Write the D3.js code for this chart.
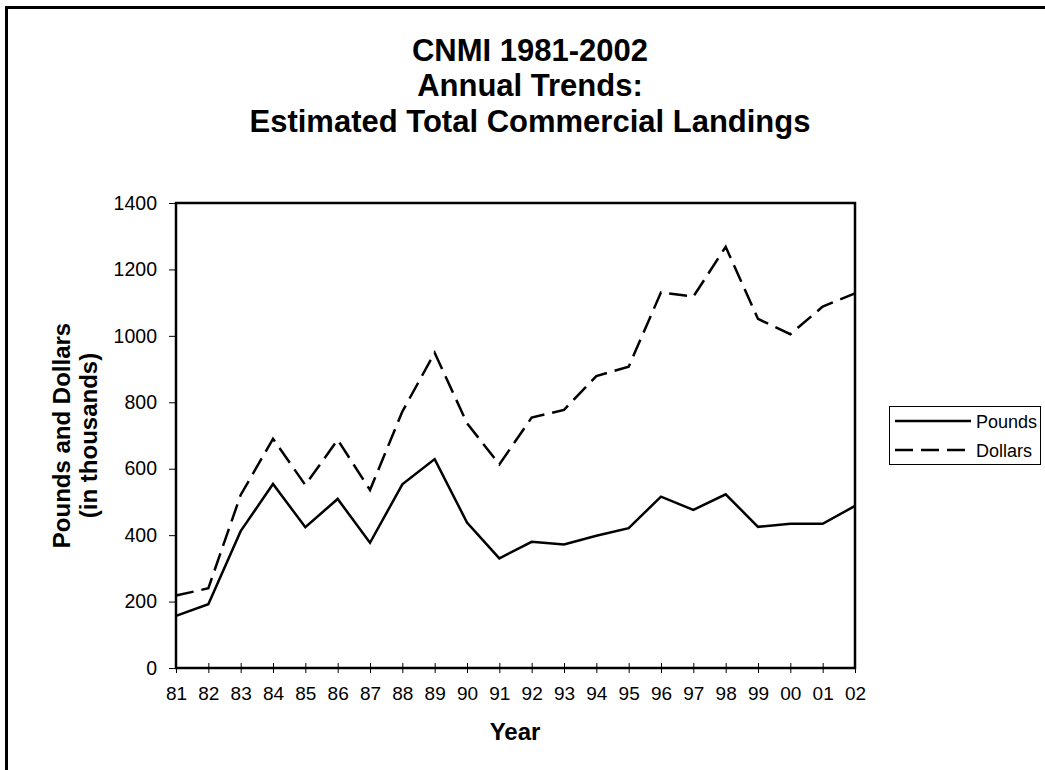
<!DOCTYPE html>
<html>
<head>
<meta charset="utf-8">
<script src="https://cdn.jsdelivr.net/npm/d3@7"></script>
<style>
  body { margin: 0; background: #fff; }
  svg { display: block; font-family: "Liberation Sans", Arial, sans-serif; }
</style>
</head>
<body>
<svg id="chart" width="1045" height="770"></svg>
<script>
// data
var years = ['81','82','83','84','85','86','87','88','89','90','91','92','93','94','95','96','97','98','99','00','01','02'];
var pounds = [157,192,412,554,424,509,377,553,629,438,330,380,372,398,421,516,476,523,425,434,434,488];
var dollars = [218,240,521,690,551,687,536,772,949,737,613,754,777,879,907,1131,1118,1268,1051,1005,1088,1128];
var yTicks = [0,200,400,600,800,1000,1200,1400];
var titleLines = ['CNMI 1981-2002', 'Annual Trends:', 'Estimated Total Commercial Landings'];
var seriesNames = ['Pounds', 'Dollars'];

(function(){
  var svg = d3.select('#chart'),
    left = 176, right = 855, top = 203, bottom = 668;

  var x = d3.scalePoint().domain(years).range([left, right]),
    y = d3.scaleLinear().domain([0, 1400]).range([bottom, top]);

  // outer frame, runs past the right and bottom edges
  svg.append('rect')
    .attr('x', 6.5).attr('y', 7.5)
    .attr('width', 1100).attr('height', 800)
    .attr('fill', 'none').attr('stroke', '#000').attr('stroke-width', 3);

  // title
  svg.append('g').selectAll('text').data(titleLines).enter().append('text')
    .attr('x', 530)
    .attr('y', function(d, i){ return 61 + i * 35.3; })
    .attr('text-anchor', 'middle')
    .attr('font-size', 31).attr('font-weight', 'bold')
    .text(function(d){ return d; });

  // y axis
  var gy = svg.append('g').attr('transform', 'translate(' + left + ',0)')
    .call(d3.axisLeft(y).tickValues(yTicks).tickFormat(d3.format('d')).tickSize(7).tickPadding(12));
  gy.select('.domain').remove();
  gy.selectAll('.tick line').attr('stroke', '#000').attr('stroke-width', 1);
  gy.selectAll('.tick text').attr('font-size', 19.5).attr('fill', '#000')
    .attr('font-family', '"Liberation Sans", Arial, sans-serif');

  // x axis, ticks cross the axis line
  var gx = svg.append('g').attr('transform', 'translate(0,' + bottom + ')')
    .call(d3.axisBottom(x).tickSize(5).tickPadding(0));
  gx.select('.domain').remove();
  gx.selectAll('.tick line').attr('y1', -5).attr('y2', 5).attr('stroke', '#000').attr('stroke-width', 1);
  gx.selectAll('.tick text').attr('y', 32).attr('dy', 0).attr('font-size', 19).attr('fill', '#000')
    .attr('font-family', '"Liberation Sans", Arial, sans-serif');

  // plot frame
  svg.append('rect')
    .attr('x', left).attr('y', top)
    .attr('width', right - left).attr('height', bottom - top)
    .attr('fill', 'none').attr('stroke', '#000').attr('stroke-width', 2.5);

  // series lines
  var line = d3.line().x(function(d, i){ return x(years[i]); }).y(function(d){ return y(d); });
  svg.append('path').datum(pounds)
    .attr('d', line).attr('fill', 'none').attr('stroke', '#000')
    .attr('stroke-width', 2.5).attr('stroke-linejoin', 'miter');
  svg.append('path').datum(dollars)
    .attr('d', line).attr('fill', 'none').attr('stroke', '#000')
    .attr('stroke-width', 2.5).attr('stroke-dasharray', '18,8');

  // axis titles
  svg.append('text')
    .attr('x', 515).attr('y', 740)
    .attr('text-anchor', 'middle').attr('font-size', 24).attr('font-weight', 'bold')
    .text('Year');
  var yt = svg.append('text')
    .attr('transform', 'translate(70,' + ((top + bottom) / 2) + ') rotate(-90)')
    .attr('text-anchor', 'middle').attr('font-size', 24).attr('font-weight', 'bold');
  yt.append('tspan').attr('x', 0).attr('y', 0).text('Pounds and Dollars');
  yt.append('tspan').attr('x', 0).attr('y', 27).text('(in thousands)');

  // legend
  var lg = svg.append('g');
  lg.append('rect')
    .attr('x', 889.5).attr('y', 406.5).attr('width', 151).attr('height', 58)
    .attr('fill', '#fff').attr('stroke', '#000').attr('stroke-width', 1);
  var items = lg.selectAll('g.item').data(seriesNames).enter().append('g')
    .attr('class', 'item')
    .attr('transform', function(d, i){ return 'translate(0,' + (421 + i * 29) + ')'; });
  items.append('line')
    .attr('x1', 895).attr('x2', 971).attr('y1', 0).attr('y2', 0)
    .attr('stroke', '#000').attr('stroke-width', 2.5)
    .attr('stroke-dasharray', function(d, i){ return i ? '18,8' : null; });
  items.append('text')
    .attr('x', 976).attr('y', 6.5).attr('font-size', 18)
    .text(function(d){ return d; });
})();
</script>
</body>
</html>
